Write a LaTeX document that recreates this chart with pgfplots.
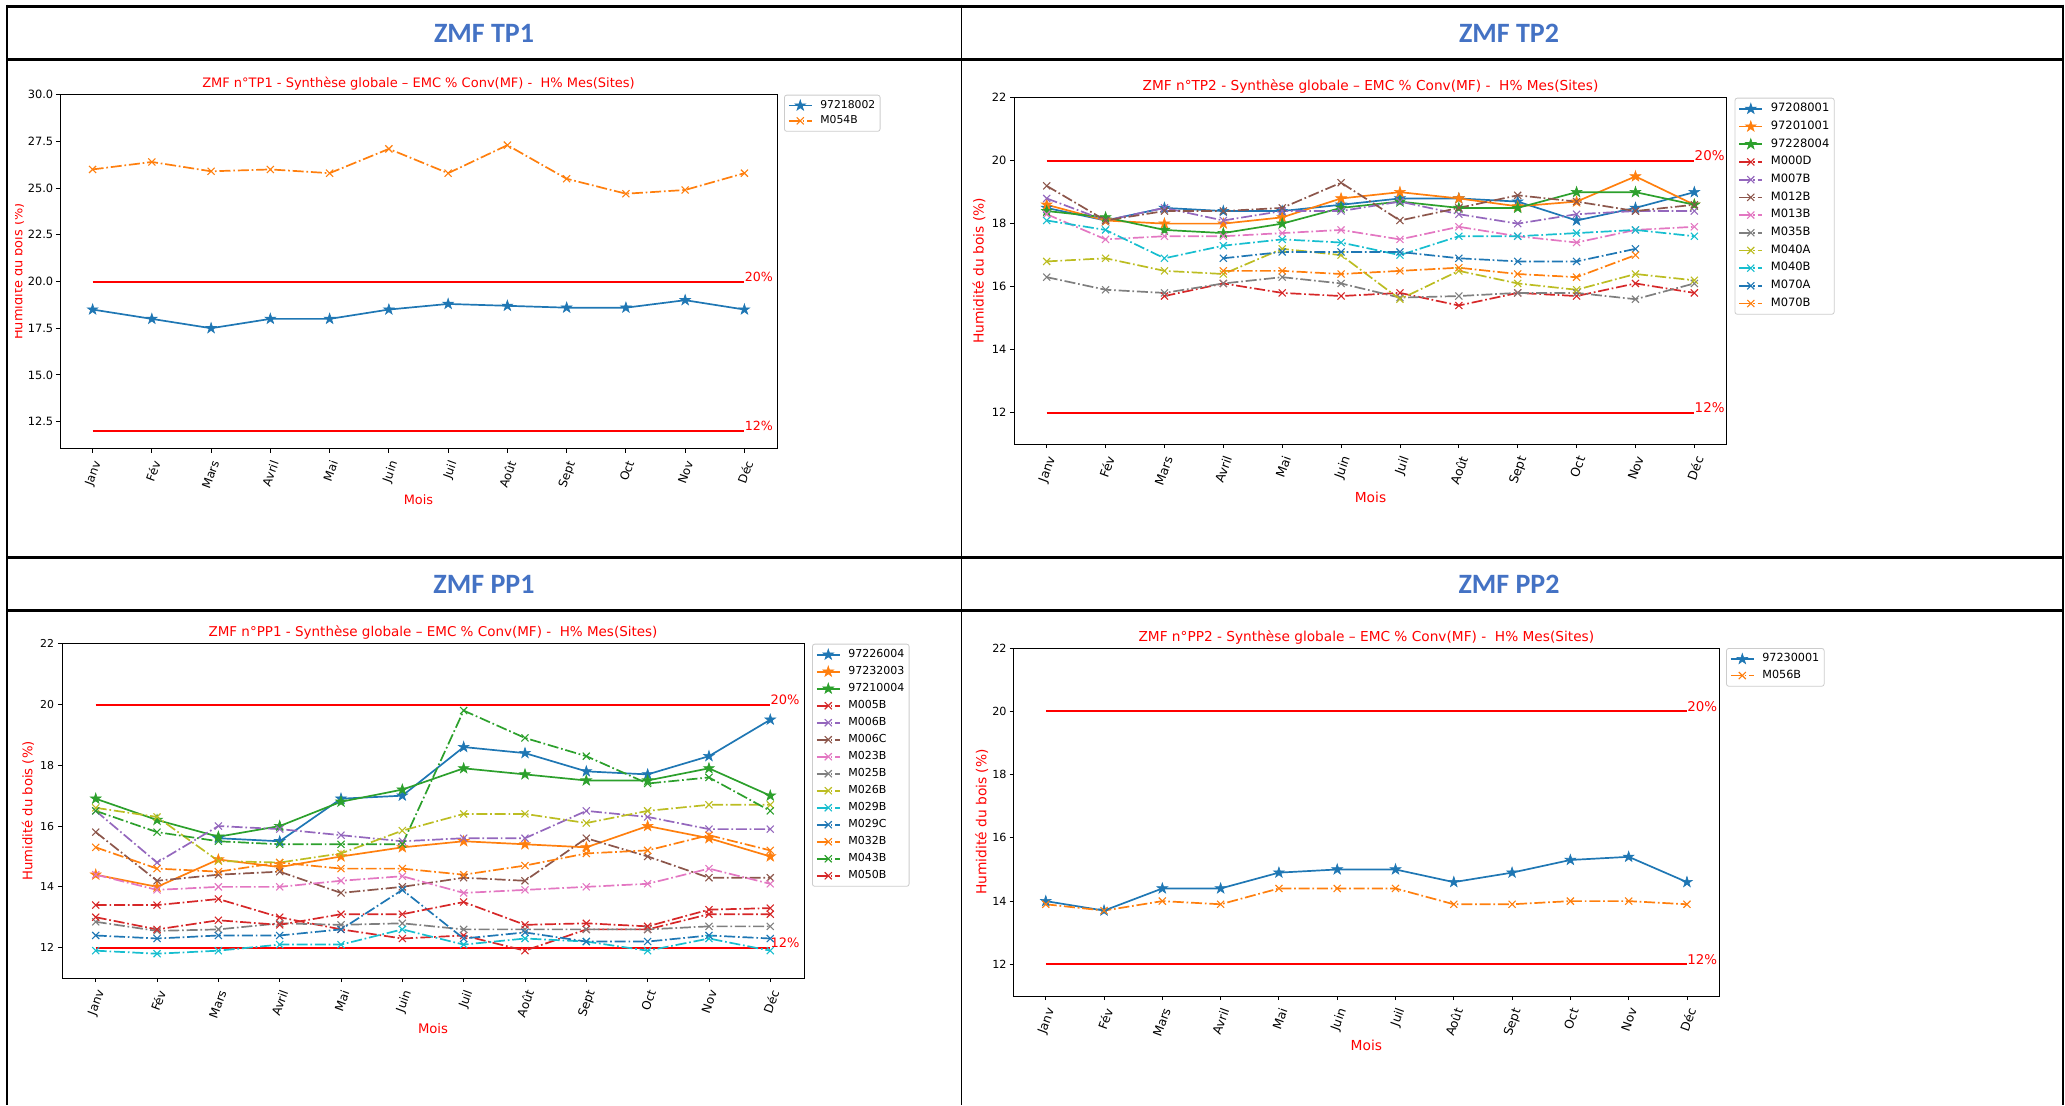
\documentclass[border=0pt]{standalone}
\usepackage{fontspec}
\setmainfont{DejaVu Sans}
\newfontfamily\carlito{Carlito}
\usepackage{pgfplots}
\pgfplotsset{compat=1.18}
\definecolor{C0}{HTML}{1F77B4}
\definecolor{C1}{HTML}{FF7F0E}
\definecolor{C2}{HTML}{2CA02C}
\definecolor{C3}{HTML}{D62728}
\definecolor{C4}{HTML}{9467BD}
\definecolor{C5}{HTML}{8C564B}
\definecolor{C6}{HTML}{E377C2}
\definecolor{C7}{HTML}{7F7F7F}
\definecolor{C8}{HTML}{BCBD22}
\definecolor{C9}{HTML}{17BECF}
\definecolor{hdr}{HTML}{4472C4}
\definecolor{mred}{HTML}{FF0000}

\pgfdeclareplotmark{fstar}{%
 \pgfpathmoveto{\pgfpointpolar{90}{\pgfplotmarksize}}%
 \pgfpathlineto{\pgfpointpolar{126}{0.382\pgfplotmarksize}}%
 \pgfpathlineto{\pgfpointpolar{162}{\pgfplotmarksize}}%
 \pgfpathlineto{\pgfpointpolar{198}{0.382\pgfplotmarksize}}%
 \pgfpathlineto{\pgfpointpolar{234}{\pgfplotmarksize}}%
 \pgfpathlineto{\pgfpointpolar{270}{0.382\pgfplotmarksize}}%
 \pgfpathlineto{\pgfpointpolar{306}{\pgfplotmarksize}}%
 \pgfpathlineto{\pgfpointpolar{342}{0.382\pgfplotmarksize}}%
 \pgfpathlineto{\pgfpointpolar{18}{\pgfplotmarksize}}%
 \pgfpathlineto{\pgfpointpolar{54}{0.382\pgfplotmarksize}}%
 \pgfpathclose
 \pgfusepathqfillstroke
}

\pgfplotsset{
 starl/.style={color=#1, solid, line width=0.85pt, mark=fstar, mark size=2.8pt, mark options={solid, line width=0.3pt}},
 xl/.style={color=#1, line width=0.85pt, dash pattern=on 5.5pt off 1.4pt on 0.85pt off 1.4pt, mark=x, mark size=2.5pt, mark options={solid, line width=0.55pt}},
 refl/.style={mred, line width=1pt, solid, forget plot},
 mpl/.style={
  scale only axis, anchor=south west, clip=false,
  xmin=-0.55, xmax=11.55, xtick={0,...,11},
  xticklabels={Janv,Fév,Mars,Avril,Mai,Juin,Juil,Août,Sept,Oct,Nov,Déc},
  tick align=outside, tick pos=left, major tick length=2pt,
  axis line style={line width=0.45pt, black},
  tick style={black, line width=0.45pt},
  /pgf/number format/assume math mode=true,
  xticklabel style={rotate=70, anchor=north east, inner sep=0pt},
  yticklabel style={anchor=east, inner sep=0pt},
  xticklabel shift=3.3pt, yticklabel shift=1.8pt,
  xlabel={Mois}, ylabel={Humidité du bois (\%)},
  every axis title/.style={at={(0.5,1)}, anchor=base, yshift=3.4pt, text=mred},
  label style={text=mred},
  legend cell align=left,
  legend style={at={(1.011,1)}, anchor=north west, draw=black!20, rounded corners=1.2pt, inner xsep=1.8pt, inner ysep=1.9pt, nodes={inner sep=0.6pt}, /tikz/every odd column/.append style={column sep=3.3pt}},
  legend image code/.code={\draw[mark repeat=2,mark phase=2,##1] plot coordinates {(0pt,0pt) (5.7pt,0pt) (11.4pt,0pt)};},
 },
}

\begin{document}
\begin{tikzpicture}
\useasboundingbox (0pt,0pt) rectangle (1032.5pt,-552.5pt);

% ---------------- TP1 ----------------
\begin{axis}[mpl, at={(30pt,-224.35pt)}, width=358.5pt, height=177pt,
  ymin=11.05, ymax=30, ytick={12.5,15,17.5,20,22.5,25,27.5,30},
  yticklabel shift=1.2pt,
  yticklabel style={/pgf/number format/fixed, /pgf/number format/precision=1, /pgf/number format/fixed zerofill, font=\fontsize{5.7}{6.4}\selectfont},
  xticklabel style={font=\fontsize{5.9}{6.6}\selectfont},
  title style={font=\fontsize{6.5}{7.5}\selectfont},
  title={ZMF n°TP1 - Synthèse globale – EMC \% Conv(MF) -\ \ H\% Mes(Sites)},
  xlabel style={at={(axis description cs:0.5,-0.145)}, anchor=center, font=\fontsize{6.45}{7.5}\selectfont},
  ylabel style={at={(axis description cs:-0.0586,0.5)}, anchor=center, font=\fontsize{6.45}{7.5}\selectfont},
  legend style={font=\fontsize{5.4}{6}\selectfont, row sep=0.9pt, at={(1.0098,1)}},
]
\addplot[refl] coordinates {(0,20) (11,20)};
\addplot[refl] coordinates {(0,12) (11,12)};
\addplot[starl=C0] coordinates {(0,18.5) (1,18.0) (2,17.5) (3,18.0) (4,18.0) (5,18.5) (6,18.8) (7,18.7) (8,18.6) (9,18.6) (10,19.0) (11,18.5)};
\addlegendentry{97218002}
\addplot[xl=C1] coordinates {(0,26.0) (1,26.4) (2,25.9) (3,26.0) (4,25.8) (5,27.1) (6,25.8) (7,27.3) (8,25.5) (9,24.7) (10,24.9) (11,25.8)};
\addlegendentry{M054B}
\node[anchor=base west, inner sep=0pt, text=mred, font=\fontsize{6.3}{7}\selectfont] at (axis cs:11,20) {20\%};
\node[anchor=base west, inner sep=0pt, text=mred, font=\fontsize{6.3}{7}\selectfont] at (axis cs:11,12) {12\%};
\end{axis}

% ---------------- TP2 ----------------
\begin{axis}[mpl, at={(507.15pt,-222pt)}, width=356.2pt, height=173.15pt,
  ymin=11, ymax=22, ytick={12,14,16,18,20,22},
  yticklabel style={font=\fontsize{5.7}{6.5}\selectfont},
  xticklabel style={font=\fontsize{6.2}{7}\selectfont},
  title style={font=\fontsize{6.85}{8}\selectfont},
  title={ZMF n°TP2 - Synthèse globale – EMC \% Conv(MF) -\ \ H\% Mes(Sites)},
  xlabel style={at={(axis description cs:0.5,-0.155)}, anchor=center, font=\fontsize{6.9}{8}\selectfont},
  ylabel style={at={(axis description cs:-0.0496,0.5)}, anchor=center, font=\fontsize{6.9}{8}\selectfont},
  legend style={font=\fontsize{5.75}{6.5}\selectfont, row sep=1.88pt, at={(1.011,1)}},
]
\addplot[refl] coordinates {(0,20) (11,20)};
\addplot[refl] coordinates {(0,12) (11,12)};
\addplot[starl=C0] coordinates {(0,18.5) (1,18.1) (2,18.5) (3,18.4) (4,18.4) (5,18.6) (6,18.8) (7,18.8) (8,18.7) (9,18.1) (10,18.5) (11,19.0)};
\addlegendentry{97208001}
\addplot[starl=C1] coordinates {(0,18.6) (1,18.1) (2,18.0) (3,18.0) (4,18.2) (5,18.8) (6,19.0) (7,18.8) (8,18.55) (9,18.7) (10,19.5) (11,18.6)};
\addlegendentry{97201001}
\addplot[starl=C2] coordinates {(0,18.4) (1,18.2) (2,17.8) (3,17.7) (4,18.0) (5,18.5) (6,18.7) (7,18.5) (8,18.5) (9,19.0) (10,19.0) (11,18.6)};
\addlegendentry{97228004}
\addplot[xl=C3] coordinates {(2,15.7) (3,16.1) (4,15.8) (5,15.7) (6,15.8) (7,15.4) (8,15.8) (9,15.7) (10,16.1) (11,15.8)};
\addlegendentry{M000D}
\addplot[xl=C4] coordinates {(0,18.8) (1,18.1) (2,18.5) (3,18.1) (4,18.4) (5,18.4) (6,18.7) (7,18.3) (8,18.0) (9,18.3) (10,18.4) (11,18.4)};
\addlegendentry{M007B}
\addplot[xl=C5] coordinates {(0,19.2) (1,18.1) (2,18.4) (3,18.4) (4,18.5) (5,19.3) (6,18.1) (7,18.5) (8,18.9) (9,18.7) (10,18.4) (11,18.6)};
\addlegendentry{M012B}
\addplot[xl=C6] coordinates {(0,18.3) (1,17.5) (2,17.6) (3,17.6) (4,17.7) (5,17.8) (6,17.5) (7,17.9) (8,17.6) (9,17.4) (10,17.8) (11,17.9)};
\addlegendentry{M013B}
\addplot[xl=C7] coordinates {(0,16.3) (1,15.9) (2,15.8) (3,16.1) (4,16.3) (5,16.1) (6,15.65) (7,15.7) (8,15.8) (9,15.8) (10,15.6) (11,16.1)};
\addlegendentry{M035B}
\addplot[xl=C8] coordinates {(0,16.8) (1,16.9) (2,16.5) (3,16.4) (4,17.2) (5,17.0) (6,15.6) (7,16.5) (8,16.1) (9,15.9) (10,16.4) (11,16.2)};
\addlegendentry{M040A}
\addplot[xl=C9] coordinates {(0,18.1) (1,17.8) (2,16.9) (3,17.3) (4,17.5) (5,17.4) (6,17.0) (7,17.6) (8,17.6) (9,17.7) (10,17.8) (11,17.6)};
\addlegendentry{M040B}
\addplot[xl=C0] coordinates {(3,16.9) (4,17.1) (5,17.1) (6,17.1) (7,16.9) (8,16.8) (9,16.8) (10,17.2)};
\addlegendentry{M070A}
\addplot[xl=C1] coordinates {(3,16.5) (4,16.5) (5,16.4) (6,16.5) (7,16.6) (8,16.4) (9,16.3) (10,17.0)};
\addlegendentry{M070B}
\node[anchor=base west, inner sep=0pt, text=mred, font=\fontsize{6.7}{7.5}\selectfont] at (axis cs:11,20) {20\%};
\node[anchor=base west, inner sep=0pt, text=mred, font=\fontsize{6.7}{7.5}\selectfont] at (axis cs:11,12) {12\%};
\end{axis}

% ---------------- PP1 ----------------
\begin{axis}[mpl, at={(31pt,-489pt)}, width=371pt, height=167.15pt,
  ymin=11, ymax=22, ytick={12,14,16,18,20,22},
  yticklabel style={font=\fontsize{5.45}{6.2}\selectfont},
  xticklabel style={font=\fontsize{6}{6.8}\selectfont},
  title style={font=\fontsize{6.75}{7.7}\selectfont},
  title={ZMF n°PP1 - Synthèse globale – EMC \% Conv(MF) -\ \ H\% Mes(Sites)},
  xlabel style={at={(axis description cs:0.5,-0.1526)}, anchor=center, font=\fontsize{6.6}{7.6}\selectfont},
  ylabel style={at={(axis description cs:-0.0458,0.5)}, anchor=center, font=\fontsize{6.6}{7.6}\selectfont},
  legend style={font=\fontsize{5.5}{6.2}\selectfont, row sep=1.72pt, at={(1.0108,1)}},
]
\addplot[refl] coordinates {(0,20) (11,20)};
\addplot[refl] coordinates {(0,12) (11,12)};
\addplot[starl=C0] coordinates {(2,15.6) (3,15.5) (4,16.9) (5,17.0) (6,18.6) (7,18.4) (8,17.8) (9,17.7) (10,18.3) (11,19.5)};
\addlegendentry{97226004}
\addplot[starl=C1] coordinates {(0,14.4) (1,14.0) (2,14.9) (3,14.65) (4,15.0) (5,15.3) (6,15.5) (7,15.4) (8,15.3) (9,16.0) (10,15.6) (11,15.0)};
\addlegendentry{97232003}
\addplot[starl=C2] coordinates {(0,16.9) (1,16.2) (2,15.65) (3,16.0) (4,16.8) (5,17.2) (6,17.9) (7,17.7) (8,17.5) (9,17.5) (10,17.9) (11,17.0)};
\addlegendentry{97210004}
\addplot[xl=C3] coordinates {(0,13.4) (1,13.4) (2,13.6) (3,13.0) (4,12.6) (5,12.3) (6,12.4) (7,11.9) (8,12.6) (9,12.6) (10,13.1) (11,13.1)};
\addlegendentry{M005B}
\addplot[xl=C4] coordinates {(0,16.5) (1,14.8) (2,16.0) (3,15.9) (4,15.7) (5,15.5) (6,15.6) (7,15.6) (8,16.5) (9,16.3) (10,15.9) (11,15.9)};
\addlegendentry{M006B}
\addplot[xl=C5] coordinates {(0,15.8) (1,14.2) (2,14.4) (3,14.5) (4,13.8) (5,14.0) (6,14.3) (7,14.2) (8,15.6) (9,15.0) (10,14.3) (11,14.3)};
\addlegendentry{M006C}
\addplot[xl=C6] coordinates {(0,14.4) (1,13.9) (2,14.0) (3,14.0) (4,14.2) (5,14.35) (6,13.8) (7,13.9) (8,14.0) (9,14.1) (10,14.6) (11,14.1)};
\addlegendentry{M023B}
\addplot[xl=C7] coordinates {(0,12.85) (1,12.55) (2,12.6) (3,12.8) (4,12.75) (5,12.8) (6,12.6) (7,12.6) (8,12.6) (9,12.6) (10,12.7) (11,12.7)};
\addlegendentry{M025B}
\addplot[xl=C8] coordinates {(0,16.6) (1,16.3) (2,14.85) (3,14.8) (4,15.1) (5,15.85) (6,16.4) (7,16.4) (8,16.1) (9,16.5) (10,16.7) (11,16.7)};
\addlegendentry{M026B}
\addplot[xl=C9] coordinates {(0,11.9) (1,11.8) (2,11.9) (3,12.1) (4,12.1) (5,12.6) (6,12.1) (7,12.3) (8,12.2) (9,11.9) (10,12.3) (11,11.9)};
\addlegendentry{M029B}
\addplot[xl=C0] coordinates {(0,12.4) (1,12.3) (2,12.4) (3,12.4) (4,12.6) (5,13.9) (6,12.3) (7,12.5) (8,12.2) (9,12.2) (10,12.4) (11,12.3)};
\addlegendentry{M029C}
\addplot[xl=C1] coordinates {(0,15.3) (1,14.6) (2,14.5) (3,14.8) (4,14.6) (5,14.6) (6,14.4) (7,14.7) (8,15.1) (9,15.2) (10,15.7) (11,15.2)};
\addlegendentry{M032B}
\addplot[xl=C2] coordinates {(0,16.5) (1,15.8) (2,15.5) (3,15.4) (4,15.4) (5,15.4) (6,19.8) (7,18.9) (8,18.3) (9,17.4) (10,17.6) (11,16.5)};
\addlegendentry{M043B}
\addplot[xl=C3] coordinates {(0,13.0) (1,12.6) (2,12.9) (3,12.75) (4,13.1) (5,13.1) (6,13.5) (7,12.75) (8,12.8) (9,12.7) (10,13.25) (11,13.3)};
\addlegendentry{M050B}
\node[anchor=base west, inner sep=0pt, text=mred, font=\fontsize{6.5}{7.3}\selectfont] at (axis cs:11,20) {20\%};
\node[anchor=base west, inner sep=0pt, text=mred, font=\fontsize{6.5}{7.3}\selectfont] at (axis cs:11,12) {12\%};
\end{axis}

% ---------------- PP2 ----------------
\begin{axis}[mpl, at={(506.85pt,-498pt)}, width=352.65pt, height=174pt,
  ymin=11, ymax=22, ytick={12,14,16,18,20,22},
  yticklabel shift=1.4pt,
  yticklabel style={font=\fontsize{5.6}{6.4}\selectfont},
  xticklabel style={font=\fontsize{6.1}{6.9}\selectfont},
  title style={font=\fontsize{6.85}{8}\selectfont},
  title={ZMF n°PP2 - Synthèse globale – EMC \% Conv(MF) -\ \ H\% Mes(Sites)},
  xlabel style={at={(axis description cs:0.5,-0.1408)}, anchor=center, font=\fontsize{6.9}{8}\selectfont},
  ylabel style={at={(axis description cs:-0.0454,0.5)}, anchor=center, font=\fontsize{6.9}{8}\selectfont},
  legend style={font=\fontsize{5.6}{6.4}\selectfont, row sep=1.4pt, at={(1.01,1)}},
]
\addplot[refl] coordinates {(0,20) (11,20)};
\addplot[refl] coordinates {(0,12) (11,12)};
\addplot[starl=C0] coordinates {(0,14.0) (1,13.7) (2,14.4) (3,14.4) (4,14.9) (5,15.0) (6,15.0) (7,14.6) (8,14.9) (9,15.3) (10,15.4) (11,14.6)};
\addlegendentry{97230001}
\addplot[xl=C1] coordinates {(0,13.9) (1,13.7) (2,14.0) (3,13.9) (4,14.4) (5,14.4) (6,14.4) (7,13.9) (8,13.9) (9,14.0) (10,14.0) (11,13.9)};
\addlegendentry{M056B}
\node[anchor=base west, inner sep=0pt, text=mred, font=\fontsize{6.7}{7.5}\selectfont] at (axis cs:11,20) {20\%};
\node[anchor=base west, inner sep=0pt, text=mred, font=\fontsize{6.7}{7.5}\selectfont] at (axis cs:11,12) {12\%};
\end{axis}

% cropped left edge of the TP1 picture
\fill[white] (0pt,-31pt) rectangle (7.4pt,-277pt);

% ---------------- table ----------------
\draw[line width=1.5pt] (3pt,-3pt) -- (1032pt,-3pt);
\draw[line width=1.5pt] (3pt,-29.75pt) -- (1032pt,-29.75pt);
\draw[line width=1.5pt] (3pt,-278.75pt) -- (1032pt,-278.75pt);
\draw[line width=1.5pt] (3pt,-305.25pt) -- (1032pt,-305.25pt);
\draw[line width=1pt] (3.5pt,-2.25pt) -- (3.5pt,-552.5pt);
\draw[line width=0.8pt] (480.75pt,-2.25pt) -- (480.75pt,-552.5pt);
\draw[line width=1pt] (1031.3pt,-2.25pt) -- (1031.3pt,-552.5pt);

\node[font=\carlito\bfseries\fontsize{14}{16}\selectfont, text=hdr] at (242pt,-16.6pt) {ZMF TP1};
\node[font=\carlito\bfseries\fontsize{14}{16}\selectfont, text=hdr] at (754.5pt,-16.6pt) {ZMF TP2};
\node[font=\carlito\bfseries\fontsize{14}{16}\selectfont, text=hdr] at (242pt,-292pt) {ZMF PP1};
\node[font=\carlito\bfseries\fontsize{14}{16}\selectfont, text=hdr] at (754.5pt,-292pt) {ZMF PP2};
\end{tikzpicture}
\end{document}
